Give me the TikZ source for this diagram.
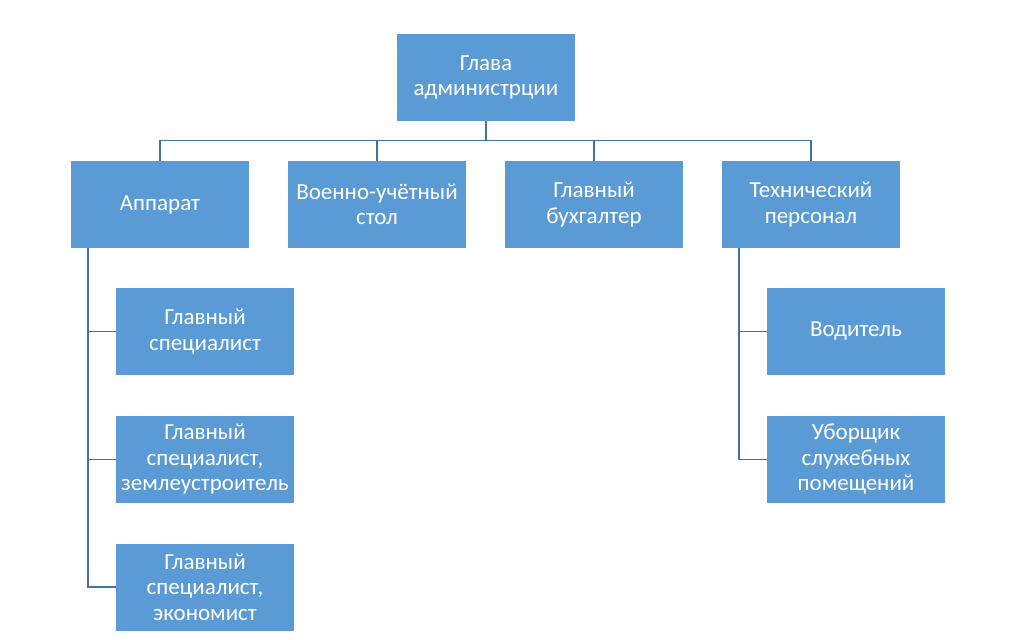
\documentclass[tikz,border=0pt]{standalone}
\usepackage{fontspec}
\setmainfont{Carlito}
\begin{document}
\begin{tikzpicture}[x=1pt,y=-1pt,
  box/.style={draw=none,fill=boxblue,text=white,minimum width=178pt,minimum height=87pt,
    inner sep=0pt,align=center,font=\fontsize{23}{25.5}\selectfont},
  link/.style={draw=lineblue,line width=1.8pt}]
\definecolor{boxblue}{HTML}{5B9BD5}
\definecolor{lineblue}{HTML}{41719C}
\useasboundingbox (0,0) rectangle (1024,639);
\node[box] (top) at (486,77.5) {Глава\\администрции};
\node[box] (app) at (160,204.5) {Аппарат};
\node[box] (voen) at (377,204.5) {Военно-учётный\\стол};
\node[box] (buh) at (594,204.5) {Главный\\бухгалтер};
\node[box] (tech) at (811,204.5) {Технический\\персонал};
\node[box] (a1) at (205,331.5) {Главный\\специалист};
\node[box] (a2) at (205,459.5) {Главный\\специалист,\\землеустроитель};
\node[box] (a3) at (205,587) {Главный\\специалист,\\экономист};
\node[box] (t1) at (856,331.5) {Водитель};
\node[box] (t2) at (856,459.5) {Уборщик\\служебных\\помещений};
\coordinate (bus) at (486,140.5);
\draw[link] (top.south) -- (bus);
\draw[link] (bus) -| (app.north);
\draw[link] (bus) -| (voen.north);
\draw[link] (bus) -| (buh.north);
\draw[link] (bus) -| (tech.north);
\draw[link] ([xshift=17pt]app.south west) |- (a1.west);
\draw[link] ([xshift=17pt]app.south west) |- (a2.west);
\draw[link] ([xshift=17pt]app.south west) |- (a3.west);
\draw[link] ([xshift=17pt]tech.south west) |- (t1.west);
\draw[link] ([xshift=17pt]tech.south west) |- (t2.west);
\end{tikzpicture}
\end{document}
